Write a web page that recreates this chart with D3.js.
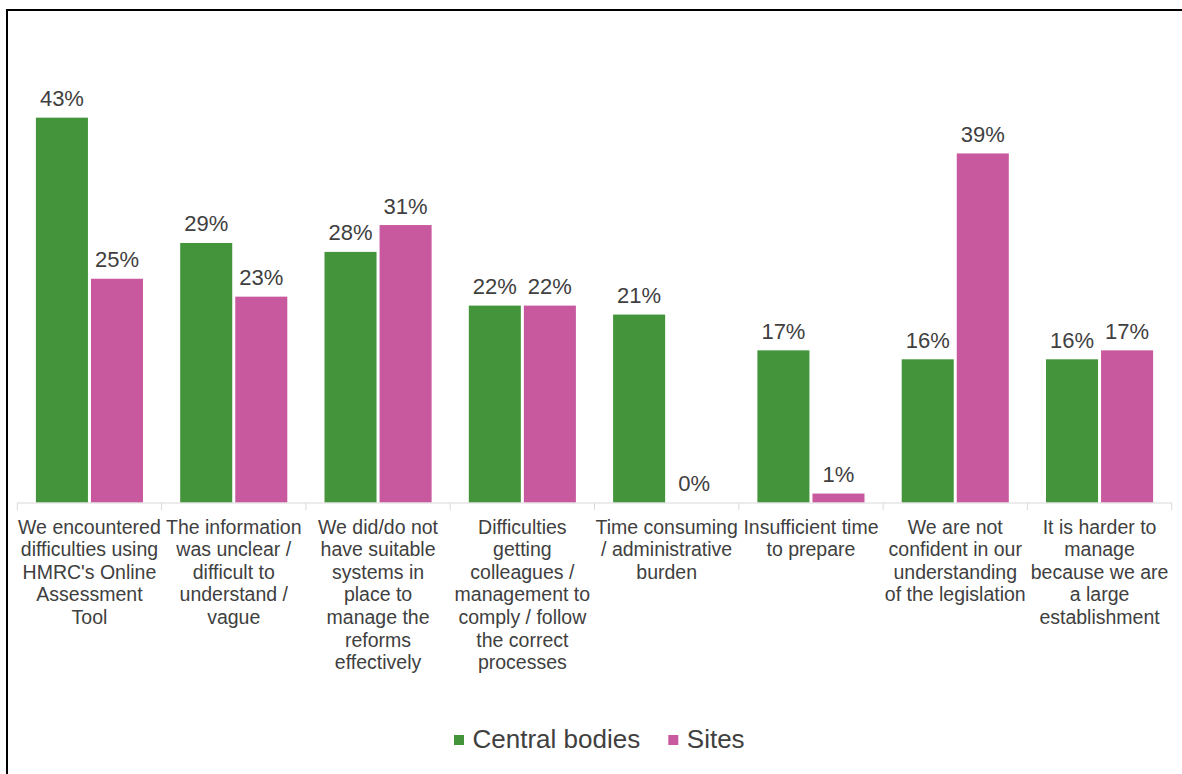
<!DOCTYPE html>
<html>
<head>
<meta charset="utf-8">
<script src="https://cdn.jsdelivr.net/npm/d3@7"></script>
<style>
  html, body { margin: 0; padding: 0; background: #fff; }
  svg { display: block; font-family: "Liberation Sans", Arial, sans-serif; }
</style>
</head>
<body>
<svg id="chart" width="1182" height="774"></svg>
<script>
// Reported difficulties, share of respondents (%)
const categories = [
  "We encountered\ndifficulties using\nHMRC's Online\nAssessment\nTool",
  "The information\nwas unclear /\ndifficult to\nunderstand /\nvague",
  "We did/do not\nhave suitable\nsystems in\nplace to\nmanage the\nreforms\neffectively",
  "Difficulties\ngetting\ncolleagues /\nmanagement to\ncomply / follow\nthe correct\nprocesses",
  "Time consuming\n/ administrative\nburden",
  "Insufficient time\nto prepare",
  "We are not\nconfident in our\nunderstanding\nof the legislation",
  "It is harder to\nmanage\nbecause we are\na large\nestablishment"
];
const seriesNames = ["Central bodies", "Sites"];
const centralBodies = [43, 29, 28, 22, 21, 17, 16, 16];
const sites = [25, 23, 31, 22, 0, 1, 39, 17];
const seriesColors = ["#43943b", "#c9599f"];

const svg = d3.select("#chart");
const textColor = "#404040";

// outer frame
svg.append("rect")
  .attr("x", 7).attr("y", 10)
  .attr("width", 1300).attr("height", 900)
  .attr("fill", "#fff")
  .attr("stroke", "#000")
  .attr("stroke-width", 2);

const x0 = d3.scaleBand()
  .domain(d3.range(categories.length))
  .range([17.3, 1171.7])
  .paddingInner(0).paddingOuter(0);

const x1 = d3.scaleBand()
  .domain(seriesNames)
  .range([18.6, x0.bandwidth() - 18.6])
  .paddingInner(0.055).paddingOuter(0);

const y = d3.scaleLinear().domain([0, 50]).range([502.5, 502.5 - 50 * 8.95]);

const rows = categories.map((c, i) => ({
  i,
  values: [
    { series: seriesNames[0], value: centralBodies[i], color: seriesColors[0] },
    { series: seriesNames[1], value: sites[i], color: seriesColors[1] }
  ]
}));

const groups = svg.append("g").selectAll("g")
  .data(rows).join("g")
  .attr("transform", d => `translate(${x0(d.i)},0)`);

groups.selectAll("rect")
  .data(d => d.values).join("rect")
  .attr("x", d => x1(d.series))
  .attr("width", x1.bandwidth())
  .attr("y", d => y(d.value))
  .attr("height", d => y(0) - y(d.value))
  .attr("fill", d => d.color);

groups.selectAll("text.val")
  .data(d => d.values).join("text")
  .attr("class", "val")
  .attr("x", d => x1(d.series) + x1.bandwidth() / 2)
  .attr("y", d => y(d.value) - 11.5)
  .attr("text-anchor", "middle")
  .attr("font-size", 22)
  .attr("fill", textColor)
  .text(d => d.value + "%");

// category axis
const axisG = svg.append("g").attr("transform", `translate(0,${y(0) + 0.5})`);
axisG.append("line")
  .attr("x1", x0.range()[0]).attr("x2", x0.range()[1])
  .attr("stroke", "#d9d9d9").attr("stroke-width", 1);
axisG.selectAll("line.tick")
  .data(d3.range(categories.length + 1)).join("line")
  .attr("class", "tick")
  .attr("x1", i => x0.range()[0] + i * x0.step())
  .attr("x2", i => x0.range()[0] + i * x0.step())
  .attr("y1", 0).attr("y2", 7)
  .attr("stroke", "#d9d9d9").attr("stroke-width", 1);

const labels = svg.append("g").selectAll("text")
  .data(categories).join("text")
  .attr("x", (d, i) => x0(i) + x0.bandwidth() / 2)
  .attr("y", 533.5)
  .attr("text-anchor", "middle")
  .attr("font-size", 19.5)
  .attr("fill", textColor);
labels.selectAll("tspan")
  .data(d => d.split("\n")).join("tspan")
  .attr("x", function () { return this.parentNode.getAttribute("x"); })
  .attr("dy", (d, j) => j === 0 ? 0 : 22.6)
  .text(d => d);

// legend
const legendItems = [
  { name: seriesNames[0], color: seriesColors[0], x: 454 },
  { name: seriesNames[1], color: seriesColors[1], x: 668.3 }
];
const lg = svg.append("g").selectAll("g")
  .data(legendItems).join("g")
  .attr("transform", d => `translate(${d.x},0)`);
lg.append("rect")
  .attr("x", 0).attr("y", 735)
  .attr("width", 10).attr("height", 10)
  .attr("fill", d => d.color);
lg.append("text")
  .attr("x", 18.5).attr("y", 748.3)
  .attr("font-size", 26)
  .attr("fill", textColor)
  .text(d => d.name);
</script>
</body>
</html>
